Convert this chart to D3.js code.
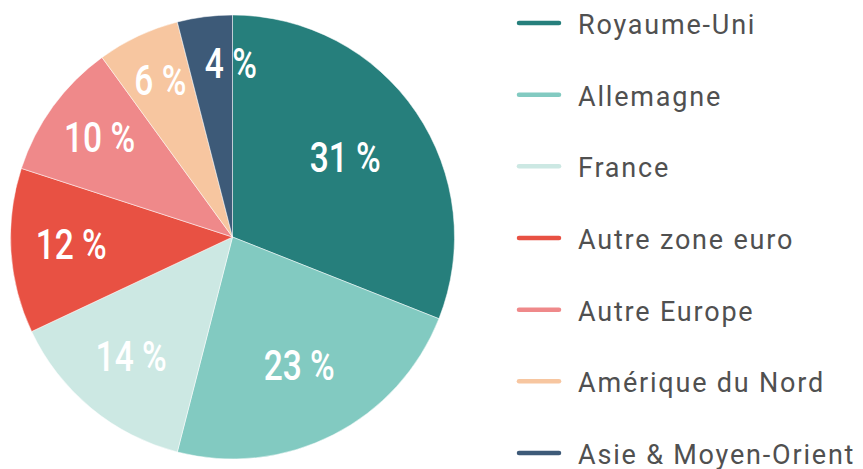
<!DOCTYPE html>
<html>
<head>
<meta charset="utf-8">
<script src="https://cdn.jsdelivr.net/npm/d3@7"></script>
<style>
  body { margin: 0; background: #fff; }
  .pct { font-family: Roboto, "Noto Sans", sans-serif; font-weight: 500; fill: #fff; }
  .leg { font-family: Roboto, "Noto Sans", sans-serif; fill: #505050; letter-spacing: 1.8px; }
</style>
</head>
<body>
<script>
// data
var regions = ["Royaume-Uni", "Allemagne", "France", "Autre zone euro", "Autre Europe", "Amérique du Nord", "Asie & Moyen-Orient"];
var shares = [31, 23, 14, 12, 10, 6, 4];
var colors = ["#267f7c", "#82cac1", "#cce8e3", "#e85143", "#ef898a", "#f7c6a0", "#3d5a78"];

var w = 863, h = 469;

var svg = d3.select("body").append("svg")
  .attr("width", w)
  .attr("height", h);

// pie
var cx = 232.5, cy = 237, r = 222;

var pie = d3.pie().sort(null).value(function(d){ return d; });
var arcs = pie(shares);

var arc = d3.arc().innerRadius(0).outerRadius(r);

//small slices get their label pushed further out
function labelPos(d){
	var k = 0.80 - 0.006 * d.data;
	var a = (d.startAngle + d.endAngle) / 2;
	var x = Math.sin(a) * r * k;
	var y = -Math.cos(a) * r * k;
	if (d.index === shares.length - 1) x += 20; //last label sits on the top edge
	return [x, y];
}

var g = svg.append("g").attr("transform", "translate(" + cx + "," + cy + ")");

g.selectAll(".slice")
  .data(arcs)
  .enter()
  .append("path")
  .attr("class", "slice")
  .attr("d", arc)
  .attr("fill", function(d, i){ return colors[i]; })
  .attr("stroke", "#fff")
  .attr("stroke-width", 0.5);

//condensed look: squeeze the labels horizontally
g.selectAll(".pct")
  .data(arcs)
  .enter()
  .append("text")
  .attr("class", "pct")
  .attr("transform", function(d){ return "translate(" + labelPos(d) + ") scale(0.78,1)"; })
  .attr("text-anchor", "middle")
  .attr("dy", "0.27em")
  .attr("font-size", 43)
  .text(function(d){ return d.data + " %"; });

// legend
var ly = d3.scalePoint().domain(regions).range([23, 453]);

var leg = svg.selectAll(".legItem")
  .data(regions)
  .enter()
  .append("g")
  .attr("class", "legItem")
  .attr("transform", function(d){ return "translate(0," + ly(d) + ")"; });

leg.append("line")
  .attr("x1", 519).attr("x2", 559)
  .attr("stroke", function(d, i){ return colors[i]; })
  .attr("stroke-width", 4.5)
  .attr("stroke-linecap", "round");

leg.append("text")
  .attr("class", "leg")
  .attr("x", 578)
  .attr("y", 11)
  .attr("font-size", 27)
  .text(function(d){ return d; });
</script>
</body>
</html>
